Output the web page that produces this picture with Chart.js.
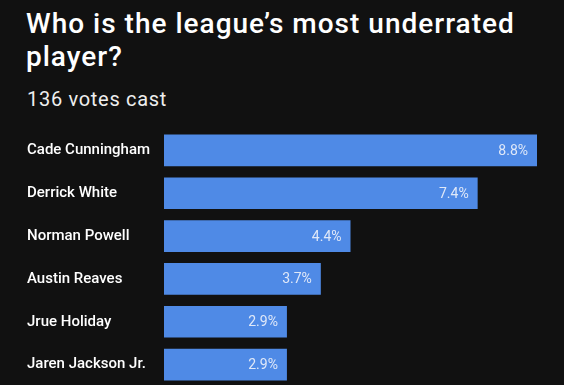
<!DOCTYPE html>
<html>
<head>
<meta charset="utf-8">
<script src="https://cdn.jsdelivr.net/npm/chart.js@4/dist/chart.umd.min.js"></script>
<style>
  html, body { margin: 0; padding: 0; background: #111111; overflow: hidden; }
  body { width: 564px; height: 385px; position: relative; font-family: Roboto, "Liberation Sans", sans-serif; color: #fff; }
  #title { position: absolute; left: 26px; top: 7px; width: 538px; font-size: 28px; line-height: 33px; font-weight: 500; letter-spacing: 1px; }
  #sub { position: absolute; left: 27px; top: 87px; font-size: 20px; line-height: 24px; font-weight: 400; letter-spacing: 0.7px; color: #eee; }
  #wrap { position: absolute; left: 0; top: 120px; width: 564px; height: 275px; }
</style>
</head>
<body>
<div id="title">Who is the league’s most underrated<br>player?</div>
<div id="sub">136 votes cast</div>
<div id="wrap"><canvas id="poll"></canvas></div>
<script>
// dados da enquete
const players = ['Cade Cunningham', 'Derrick White', 'Norman Powell', 'Austin Reaves', 'Jrue Holiday', 'Jaren Jackson Jr.'];
const shares = [8.8, 7.4, 4.4, 3.7, 2.9, 2.9];

// escreve o percentual dentro da barra, na ponta
const valueLabels = {
    id: 'valueLabels',
    afterDatasetsDraw(chart) {
        const ctx = chart.ctx;
        const meta = chart.getDatasetMeta(0);
        ctx.save();
        ctx.font = '400 14px Roboto, "Liberation Sans", sans-serif';
        ctx.fillStyle = 'rgba(235,240,250,0.92)';
        ctx.textAlign = 'right';
        ctx.textBaseline = 'middle';
        meta.data.forEach((bar, i) => {
            ctx.fillText(shares[i].toFixed(1) + '%', bar.x - 9, bar.y + 1);
        });
        ctx.restore();
    }
};

const ctx = document.getElementById('poll').getContext('2d');
new Chart(ctx, {
    type: 'bar',
    data: {
        labels: players,
        datasets: [{
            data: shares,
            backgroundColor: '#4f8ae6',
            borderWidth: 0,
            categoryPercentage: 1,
            barPercentage: 0.74
        }]
    },
    options: {
        indexAxis: 'y',
        responsive: true,
        maintainAspectRatio: false,
        animation: false,
        layout: { padding: { left: 27, right: 27, top: 8, bottom: 7 } },
        plugins: {
            legend: { display: false },
            tooltip: { enabled: false }
        },
        scales: {
            x: { display: false, min: 0, max: 8.8 },
            y: {
                grid: { display: false },
                border: { display: false },
                ticks: {
                    color: '#ffffff',
                    crossAlign: 'far',
                    padding: 0,
                    font: { family: 'Roboto, "Liberation Sans", sans-serif', size: 15, weight: '500' }
                },
                afterFit(scale) { scale.width = 137; }
            }
        }
    },
    plugins: [valueLabels]
});
</script>
</body>
</html>
